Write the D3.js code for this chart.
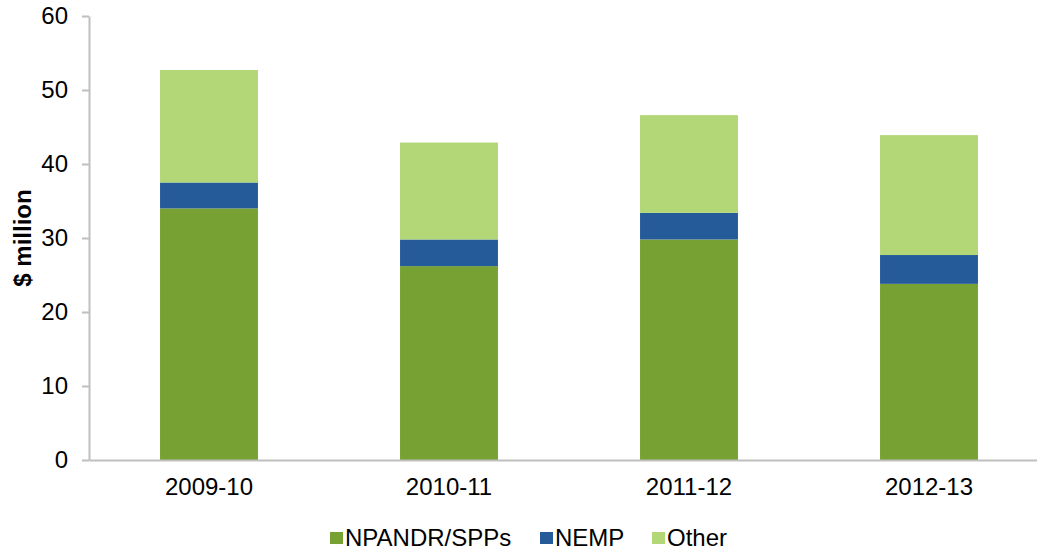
<!DOCTYPE html>
<meta charset="utf-8">
<style>
	body { margin: 0; background: #fff; }
	text { font-family: "Liberation Sans", Arial, sans-serif; fill: #000; }
	.axis path, .axis line { stroke: #bfbfbf; stroke-width: 2; }
</style>

<div class="chart"></div>

<script src="https://d3js.org/d3.v7.min.js"></script>

<script>
	var years = ["2009-10", "2010-11", "2011-12", "2012-13"];
	var seriesNames = ["NPANDR/SPPs", "NEMP", "Other"];
	var npandr = [34.0, 26.2, 29.8, 23.8];
	var nemp = [3.5, 3.6, 3.6, 3.9];
	var other = [15.2, 13.1, 13.2, 16.2];
	var yTicks = [0, 10, 20, 30, 40, 50, 60];
	var colors = ["#77a132", "#265b9a", "#b3d677"];

	var rows = years.map(function (y, i) {
		return { year: y, "NPANDR/SPPs": npandr[i], "NEMP": nemp[i], "Other": other[i] };
	});

	var width = 1037, height = 551;

	var svg = d3.select(".chart").append("svg")
		.attr("width", width)
		.attr("height", height);

	var x = d3.scaleBand()
		.domain(years)
		.range([89, 1049])
		.paddingInner(0.592)
		.paddingOuter(0.296);

	var y = d3.scaleLinear()
		.domain([0, 60])
		.range([460, 16]);

	var stack = d3.stack().keys(seriesNames)(rows);

	svg.append("g")
		.selectAll("g")
		.data(stack)
		.enter().append("g")
		.attr("fill", function (d, i) { return colors[i]; })
		.selectAll("rect")
		.data(function (d) { return d; })
		.enter().append("rect")
		.attr("x", function (d) { return x(d.data.year); })
		.attr("width", x.bandwidth())
		.attr("y", function (d) { return y(d[1]); })
		.attr("height", function (d) { return y(d[0]) - y(d[1]); });

	var yAxis = svg.append("g")
		.attr("class", "axis")
		.attr("transform", "translate(89,0)")
		.call(d3.axisLeft(y).tickValues(yTicks).tickSize(7).tickPadding(14).tickSizeOuter(0));
	yAxis.selectAll("text").style("font-size", "24px");

	var xAxis = svg.append("g")
		.attr("class", "axis")
		.attr("transform", "translate(0,460)")
		.call(d3.axisBottom(x).tickSize(0).tickPadding(18));
	xAxis.selectAll("text").style("font-size", "24px");

	svg.append("text")
		.attr("transform", "translate(31,238) rotate(-90)")
		.attr("text-anchor", "middle")
		.style("font-size", "24px")
		.style("font-weight", "bold")
		.text("$ million");

	var legendX = [330, 540, 652];
	var legend = svg.append("g")
		.selectAll("g")
		.data(seriesNames)
		.enter().append("g")
		.attr("transform", function (d, i) { return "translate(" + legendX[i] + ",532)"; });
	legend.append("rect")
		.attr("width", 13)
		.attr("height", 12)
		.attr("fill", function (d, i) { return colors[i]; });
	legend.append("text")
		.attr("x", 15)
		.attr("y", 14)
		.style("font-size", "24px")
		.text(function (d) { return d; });
</script>
